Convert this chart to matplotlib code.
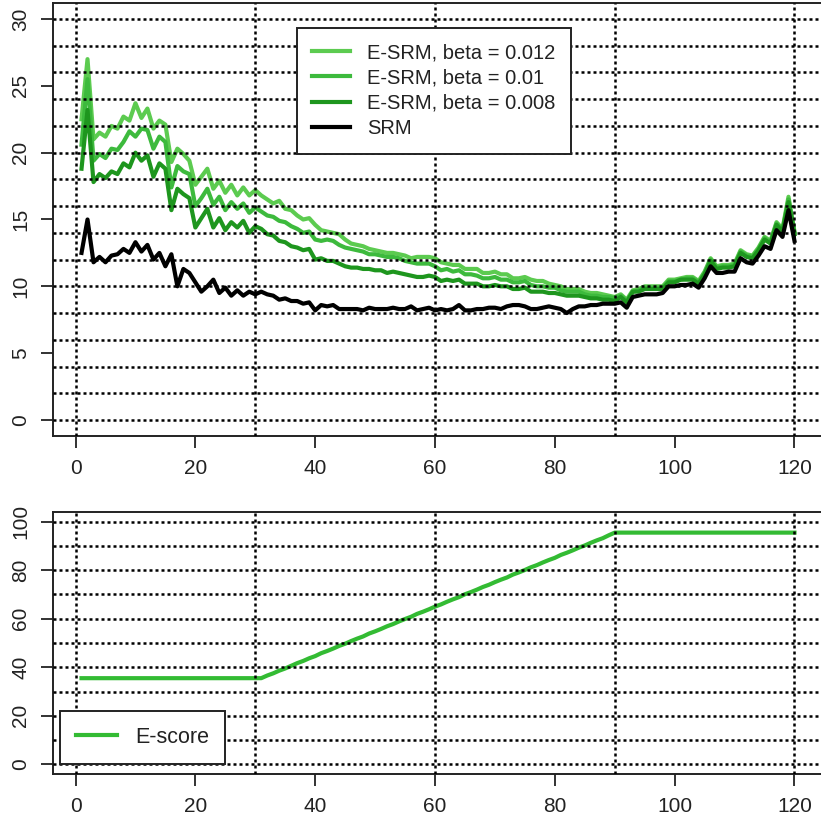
import numpy as np
import matplotlib.pyplot as plt

plt.rcParams['font.family'] = ['Liberation Sans', 'DejaVu Sans']

steps = np.arange(1, 121)

srm = [12.5, 15.0, 11.8, 12.2, 11.8, 12.3, 12.4, 12.8, 12.5, 13.3,
       12.6, 13.1, 12.0, 12.5, 11.5, 12.4, 10.0, 11.3, 11.0, 10.3,
       9.6, 10.0, 10.5, 9.5, 9.9, 9.3, 9.7, 9.3, 9.6, 9.4,
       9.6, 9.4, 9.3, 9.0, 9.1, 8.9, 8.9, 8.7, 8.8, 8.2,
       8.6, 8.5, 8.6, 8.3, 8.3, 8.3, 8.3, 8.2, 8.4, 8.3,
       8.3, 8.3, 8.4, 8.3, 8.3, 8.5, 8.2, 8.3, 8.4, 8.2,
       8.3, 8.2, 8.3, 8.6, 8.2, 8.2, 8.3, 8.3, 8.4, 8.4,
       8.3, 8.5, 8.6, 8.6, 8.5, 8.3, 8.3, 8.4, 8.5, 8.4,
       8.3, 8.0, 8.3, 8.5, 8.5, 8.6, 8.6, 8.7, 8.7, 8.7,
       8.8, 8.4, 9.2, 9.3, 9.4, 9.4, 9.4, 9.5, 10.0, 10.0,
       10.1, 10.1, 10.2, 9.9, 10.6, 11.5, 11.0, 11.0, 11.1, 11.1,
       12.1, 11.8, 11.7, 12.3, 13.0, 12.8, 14.2, 13.7, 15.7, 13.4]

esrm_008 = [18.8, 23.2, 17.8, 18.4, 18.1, 18.6, 18.4, 19.2, 18.9, 20.0,
            19.4, 19.8, 18.2, 19.2, 18.8, 15.7, 17.3, 16.9, 16.6, 14.4,
            15.1, 15.8, 14.4, 15.1, 14.2, 14.8, 14.4, 14.9, 14.0, 14.5,
            14.3, 13.9, 13.8, 13.4, 13.3, 13.0, 12.9, 12.7, 12.8, 12.0,
            12.1, 11.9, 11.9, 11.7, 11.5, 11.4, 11.4, 11.3, 11.3, 11.2,
            11.2, 11.0, 11.1, 11.0, 10.9, 10.8, 10.7, 10.7, 10.8, 10.7,
            10.4, 10.5, 10.4, 10.5, 10.2, 10.2, 10.2, 10.0, 10.0, 10.1,
            10.0, 10.0, 9.8, 9.8, 9.9, 9.6, 9.6, 9.6, 9.5, 9.5,
            9.4, 9.3, 9.3, 9.3, 9.2, 9.1, 9.1, 9.0, 9.0, 8.9,
            9.2, 8.8, 9.6, 9.6, 9.8, 9.8, 9.8, 9.8, 10.3, 10.3,
            10.5, 10.5, 10.5, 10.2, 10.9, 11.9, 11.3, 11.4, 11.4, 11.5,
            12.5, 12.2, 12.1, 12.7, 13.5, 13.2, 14.6, 14.1, 16.3, 13.9]

esrm_010 = [20.6, 25.5, 19.4, 19.9, 19.6, 20.3, 20.2, 20.8, 21.6, 21.2,
            21.8, 21.7, 20.3, 21.2, 20.8, 17.4, 19.0, 18.6, 18.4, 16.0,
            16.6, 17.3, 16.1, 16.7, 15.7, 16.3, 15.8, 16.2, 15.5, 15.9,
            15.6, 15.3, 15.2, 14.9, 14.8, 14.5, 14.3, 14.0, 14.1, 13.5,
            13.4, 13.5, 13.4, 13.1, 12.9, 12.8, 12.7, 12.6, 12.4, 12.4,
            12.3, 12.2, 12.2, 12.1, 11.9, 11.8, 11.7, 11.7, 11.7, 11.5,
            11.2, 11.3, 11.1, 11.2, 10.9, 10.9, 10.8, 10.6, 10.6, 10.7,
            10.5, 10.5, 10.3, 10.3, 10.4, 10.1, 10.0, 10.0, 9.9, 9.9,
            9.7, 9.6, 9.6, 9.6, 9.4, 9.3, 9.3, 9.2, 9.2, 9.1,
            9.3, 8.9, 9.6, 9.7, 9.9, 9.9, 9.9, 9.9, 10.4, 10.4,
            10.5, 10.6, 10.6, 10.3, 11.0, 12.0, 11.4, 11.5, 11.5, 11.6,
            12.6, 12.3, 12.2, 12.8, 13.6, 13.3, 14.7, 14.2, 16.5, 14.0]

esrm_012 = [22.5, 27.0, 21.0, 21.5, 21.2, 22.0, 21.8, 22.7, 22.4, 23.7,
            22.6, 23.3, 21.8, 22.4, 22.1, 19.3, 20.3, 19.9, 19.4, 17.6,
            18.2, 18.8, 17.3, 17.9, 17.0, 17.6, 16.8, 17.4, 16.8, 17.2,
            16.8, 16.5, 16.2, 16.4, 15.8, 15.7, 15.3, 15.0, 15.1, 14.6,
            14.2, 14.1, 14.0, 13.9, 13.5, 13.2, 13.1, 13.0, 12.8, 12.7,
            12.6, 12.5, 12.5, 12.4, 12.3, 12.1, 12.2, 12.2, 12.2, 12.1,
            11.8, 11.7, 11.6, 11.6, 11.3, 11.3, 11.3, 11.0, 11.0, 11.1,
            10.9, 10.9, 10.6, 10.6, 10.7, 10.5, 10.4, 10.4, 10.2, 10.1,
            10.0, 9.8, 9.8, 9.8, 9.6, 9.5, 9.5, 9.4, 9.3, 9.2,
            9.4, 9.0, 9.7, 9.8, 10.0, 10.0, 10.0, 10.0, 10.5, 10.5,
            10.6, 10.7, 10.7, 10.4, 11.1, 12.1, 11.5, 11.6, 11.6, 11.7,
            12.7, 12.4, 12.3, 12.9, 13.7, 13.4, 14.8, 14.3, 16.7, 14.1]

escore = [35.5, 35.5, 35.5, 35.5, 35.5, 35.5, 35.5, 35.5, 35.5, 35.5,
          35.5, 35.5, 35.5, 35.5, 35.5, 35.5, 35.5, 35.5, 35.5, 35.5,
          35.5, 35.5, 35.5, 35.5, 35.5, 35.5, 35.5, 35.5, 35.5, 35.5,
          35.5, 36.6, 37.5, 38.6, 39.5, 40.6, 41.7, 42.6, 43.7, 44.6,
          45.8, 46.7, 47.7, 48.8, 49.7, 50.8, 51.8, 52.7, 53.9, 54.8,
          55.8, 56.9, 57.8, 58.9, 59.9, 60.8, 62.0, 62.9, 63.9, 65.0,
          65.9, 67.0, 68.0, 68.9, 70.1, 71.0, 72.0, 73.1, 74.0, 75.1,
          76.1, 77.0, 78.2, 79.1, 80.1, 81.2, 82.1, 83.2, 84.2, 85.1,
          86.3, 87.2, 88.2, 89.3, 90.2, 91.3, 92.3, 93.2, 94.4, 95.5,
          95.5, 95.5, 95.5, 95.5, 95.5, 95.5, 95.5, 95.5, 95.5, 95.5,
          95.5, 95.5, 95.5, 95.5, 95.5, 95.5, 95.5, 95.5, 95.5, 95.5,
          95.5, 95.5, 95.5, 95.5, 95.5, 95.5, 95.5, 95.5, 95.5, 95.5]

x_ticks = [0, 20, 40, 60, 80, 100, 120]
v_grid = [0, 30, 60, 90, 120]

W, H = 821, 825
fig = plt.figure(figsize=(W / 100, H / 100), dpi=100)


def px_axes(left, top, right, bottom):
    return fig.add_axes([left / W, 1 - bottom / H, (right - left) / W, (bottom - top) / H])


def style(ax, yticks, h_grid):
    ax.set_xlim(-3.76, 124.76)
    ax.set_xticks(x_ticks)
    ax.set_yticks(yticks)
    ax.tick_params(axis='both', direction='out', length=8.5, width=1.3,
                   labelsize=15, colors='#222222', pad=8)
    for lbl in ax.get_yticklabels():
        lbl.set_rotation(90)
        lbl.set_va('center')
    for s in ax.spines.values():
        s.set_linewidth(1.4)
        s.set_color('#222222')
    for v in v_grid:
        ax.axvline(v, color='black', lw=1.8, ls=(0, (1.2, 1.2)), zorder=3)
    for h in h_grid:
        ax.axhline(h, color='black', lw=1.8, ls=(0, (1.2, 1.2)), zorder=3)


def boxed(leg):
    leg.get_frame().set_linewidth(1.4)
    leg.set_zorder(5)
    for t in leg.get_texts():
        t.set_color('#222222')


# top panel: risk measures
ax1 = px_axes(53, 3, 823, 436)
ax1.plot(steps, esrm_012, color='#5ccb50', lw=3.0, label='E-SRM, beta = 0.012', zorder=2)
ax1.plot(steps, esrm_010, color='#3dba3d', lw=3.0, label='E-SRM, beta = 0.01', zorder=2)
ax1.plot(steps, esrm_008, color='#1e961e', lw=3.0, label='E-SRM, beta = 0.008', zorder=2)
ax1.plot(steps, srm, color='black', lw=3.0, label='SRM', zorder=2)
ax1.set_ylim(-1.2, 31.2)
style(ax1, [0, 5, 10, 15, 20, 25, 30], np.arange(0, 31, 2))
leg1 = ax1.legend(loc='upper left', bbox_to_anchor=(297 / W, 1 - 28 / H),
                  bbox_transform=fig.transFigure, fontsize=14.5, frameon=True,
                  fancybox=False, edgecolor='#222222', framealpha=1,
                  handlelength=1.9, handletextpad=0.85, labelspacing=0.32,
                  borderpad=0.75, borderaxespad=0)
boxed(leg1)

# bottom panel: E-score
ax2 = px_axes(53, 512, 823, 774)
ax2.plot(steps, escore, color='#33bb33', lw=3.0, label='E-score', zorder=2)
ax2.set_ylim(-4, 104)
style(ax2, [0, 20, 40, 60, 80, 100], np.arange(0, 101, 10))
leg2 = ax2.legend(loc='lower left', bbox_to_anchor=(60 / W, 1 - 764 / H),
                  bbox_transform=fig.transFigure, fontsize=15.5, frameon=True,
                  fancybox=False, edgecolor='#222222', framealpha=1,
                  handlelength=1.9, handletextpad=0.85, borderpad=0.75,
                  borderaxespad=0)
boxed(leg2)

fig.savefig('out.png', dpi=100)
